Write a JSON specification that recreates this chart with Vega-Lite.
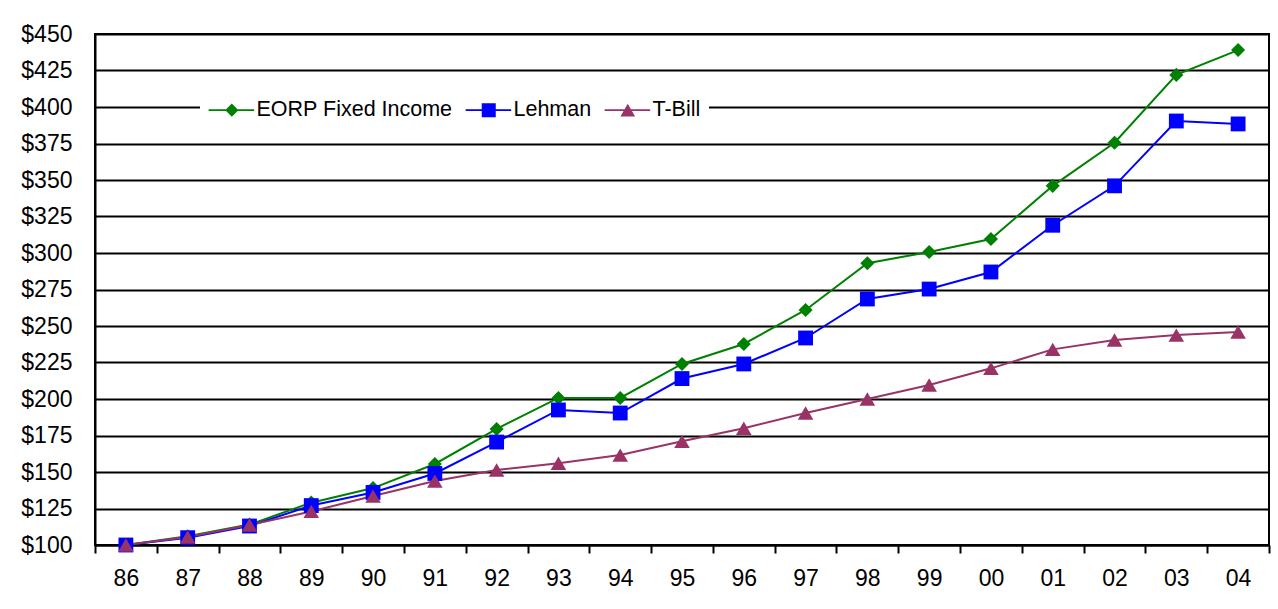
{
  "$schema": "https://vega.github.io/schema/vega-lite/v6.json",
  "width": 1174,
  "height": 511,
  "autosize": {"type": "none"},
  "padding": {"left": 95, "top": 34, "right": 9, "bottom": 64},
  "background": "white",
  "config": {
    "font": "Liberation Sans",
    "view": {"stroke": "black", "strokeWidth": 2}
  },
  "data": {
    "values": [
      {"year": "86", "series": "EORP Fixed Income", "value": 100},
      {"year": "87", "series": "EORP Fixed Income", "value": 106},
      {"year": "88", "series": "EORP Fixed Income", "value": 114},
      {"year": "89", "series": "EORP Fixed Income", "value": 129},
      {"year": "90", "series": "EORP Fixed Income", "value": 139},
      {"year": "91", "series": "EORP Fixed Income", "value": 155.5},
      {"year": "92", "series": "EORP Fixed Income", "value": 179.5},
      {"year": "93", "series": "EORP Fixed Income", "value": 200.7},
      {"year": "94", "series": "EORP Fixed Income", "value": 200.7},
      {"year": "95", "series": "EORP Fixed Income", "value": 224},
      {"year": "96", "series": "EORP Fixed Income", "value": 237.7},
      {"year": "97", "series": "EORP Fixed Income", "value": 261},
      {"year": "98", "series": "EORP Fixed Income", "value": 293},
      {"year": "99", "series": "EORP Fixed Income", "value": 300.7},
      {"year": "00", "series": "EORP Fixed Income", "value": 309.6},
      {"year": "01", "series": "EORP Fixed Income", "value": 346},
      {"year": "02", "series": "EORP Fixed Income", "value": 375.5},
      {"year": "03", "series": "EORP Fixed Income", "value": 422},
      {"year": "04", "series": "EORP Fixed Income", "value": 439},
      {"year": "86", "series": "Lehman", "value": 100},
      {"year": "87", "series": "Lehman", "value": 105},
      {"year": "88", "series": "Lehman", "value": 113},
      {"year": "89", "series": "Lehman", "value": 127},
      {"year": "90", "series": "Lehman", "value": 136},
      {"year": "91", "series": "Lehman", "value": 149},
      {"year": "92", "series": "Lehman", "value": 170.5},
      {"year": "93", "series": "Lehman", "value": 192.5},
      {"year": "94", "series": "Lehman", "value": 190.4},
      {"year": "95", "series": "Lehman", "value": 214},
      {"year": "96", "series": "Lehman", "value": 224},
      {"year": "97", "series": "Lehman", "value": 241.8},
      {"year": "98", "series": "Lehman", "value": 268.5},
      {"year": "99", "series": "Lehman", "value": 275.3},
      {"year": "00", "series": "Lehman", "value": 287},
      {"year": "01", "series": "Lehman", "value": 319},
      {"year": "02", "series": "Lehman", "value": 346},
      {"year": "03", "series": "Lehman", "value": 390.4},
      {"year": "04", "series": "Lehman", "value": 388.4},
      {"year": "86", "series": "T-Bill", "value": 100},
      {"year": "87", "series": "T-Bill", "value": 105.5},
      {"year": "88", "series": "T-Bill", "value": 113.7},
      {"year": "89", "series": "T-Bill", "value": 123},
      {"year": "90", "series": "T-Bill", "value": 133.5},
      {"year": "91", "series": "T-Bill", "value": 143.8},
      {"year": "92", "series": "T-Bill", "value": 151.4},
      {"year": "93", "series": "T-Bill", "value": 156},
      {"year": "94", "series": "T-Bill", "value": 161.6},
      {"year": "95", "series": "T-Bill", "value": 171},
      {"year": "96", "series": "T-Bill", "value": 180},
      {"year": "97", "series": "T-Bill", "value": 190.4},
      {"year": "98", "series": "T-Bill", "value": 200},
      {"year": "99", "series": "T-Bill", "value": 209.6},
      {"year": "00", "series": "T-Bill", "value": 221},
      {"year": "01", "series": "T-Bill", "value": 234},
      {"year": "02", "series": "T-Bill", "value": 240.4},
      {"year": "03", "series": "T-Bill", "value": 243.8},
      {"year": "04", "series": "T-Bill", "value": 245.9}
    ]
  },
  "encoding": {
    "x": {
      "field": "year", "type": "ordinal", "sort": null, "bandPosition": 0.5,
      "scale": {"type": "band", "paddingInner": 0, "paddingOuter": 0},
      "axis": {"title": null, "labelAngle": 0, "labelFont": "Liberation Sans", "labelFontSize": 23, "labelColor": "black", "domainColor": "black", "domainWidth": 2, "tickColor": "black", "tickWidth": 2, "tickSize": 8, "tickBand": "extent", "labelPadding": 14, "grid": false}
    },
    "y": {
      "field": "value", "type": "quantitative",
      "scale": {"domain": [100, 450], "nice": false, "zero": false},
      "axis": {"title": null, "values": [100,125,150,175,200,225,250,275,300,325,350,375,400,425,450], "labelExpr": "'$' + datum.value", "labelFont": "Liberation Sans", "labelFontSize": 23, "labelColor": "black", "ticks": false, "labelPadding": 23, "domainColor": "black", "domainWidth": 2, "grid": true, "gridColor": "black", "gridWidth": 2, "gridOpacity": 1}
    }
  },
  "resolve": {"legend": {"color": "independent", "shape": "independent"}},
  "layer": [
    {
      "mark": {"type": "line", "strokeWidth": 2},
      "encoding": {
        "color": {
          "field": "series", "type": "nominal", "legend": null,
          "scale": {"domain": ["EORP Fixed Income", "Lehman", "T-Bill"], "range": ["#008000", "#0000FF", "#993366"]}
        }
      }
    },
    {
      "mark": {"type": "point", "filled": true, "opacity": 1, "size": 220},
      "encoding": {
        "color": {
          "field": "series", "type": "nominal", "legend": null,
          "scale": {"domain": ["EORP Fixed Income", "Lehman", "T-Bill"], "range": ["#008000", "#0000FF", "#993366"]}
        },
        "shape": {
          "condition": [
            {"test": "datum.series === 'Lehman'", "value": "M-1,-1H1V1H-1Z"},
            {"test": "datum.series === 'T-Bill'", "value": "M0,-0.9L1.05,0.9L-1.05,0.9Z"}
          ],
          "value": "M0,-0.95L0.95,0L0,0.95L-0.95,0Z"
        }
      }
    },
    {
      "transform": [{"filter": "false"}],
      "mark": {"type": "point", "filled": true, "opacity": 1, "size": 196},
      "encoding": {
        "color": {
          "field": "series", "type": "nominal",
          "scale": {"domain": ["EORP Fixed Income", "Lehman", "T-Bill"], "range": ["#008000", "#0000FF", "#993366"]},
          "legend": {
            "title": null, "orient": "none", "direction": "horizontal",
            "legendX": 105, "legendY": 57,
            "fillColor": "white", "padding": 8,
            "labelFont": "Liberation Sans", "labelFontSize": 21.5, "labelColor": "black", "labelLimit": 400,
            "symbolSize": 196, "symbolOffset": 13, "labelOffset": 14, "columnPadding": 9,
            "symbolOpacity": 1
          }
        },
        "shape": {
          "field": "series", "type": "nominal",
          "scale": {"domain": ["EORP Fixed Income", "Lehman", "T-Bill"], "range": [
            "M-3.3,-0.14H-0.8L0,-0.95L0.95,0L0,0.95L-0.8,0.14H-3.3ZM0.8,-0.14H3.2V0.14H0.8Z",
            "M-3.3,-0.14H-1V-1H1V1H-1V0.14H-3.3ZM1,-0.14H3.2V0.14H1Z",
            "M-3.3,-0.14H3.2V0.14H-3.3ZM0,-0.9L1.05,0.9L-1.05,0.9Z"
          ]},
          "legend": {
            "title": null, "orient": "none", "direction": "horizontal",
            "legendX": 105, "legendY": 57,
            "fillColor": "white", "padding": 8,
            "labelFont": "Liberation Sans", "labelFontSize": 21.5, "labelColor": "black", "labelLimit": 400,
            "symbolSize": 196, "symbolOffset": 13, "labelOffset": 14, "columnPadding": 9,
            "symbolOpacity": 1
          }
        }
      }
    }
  ]
}
